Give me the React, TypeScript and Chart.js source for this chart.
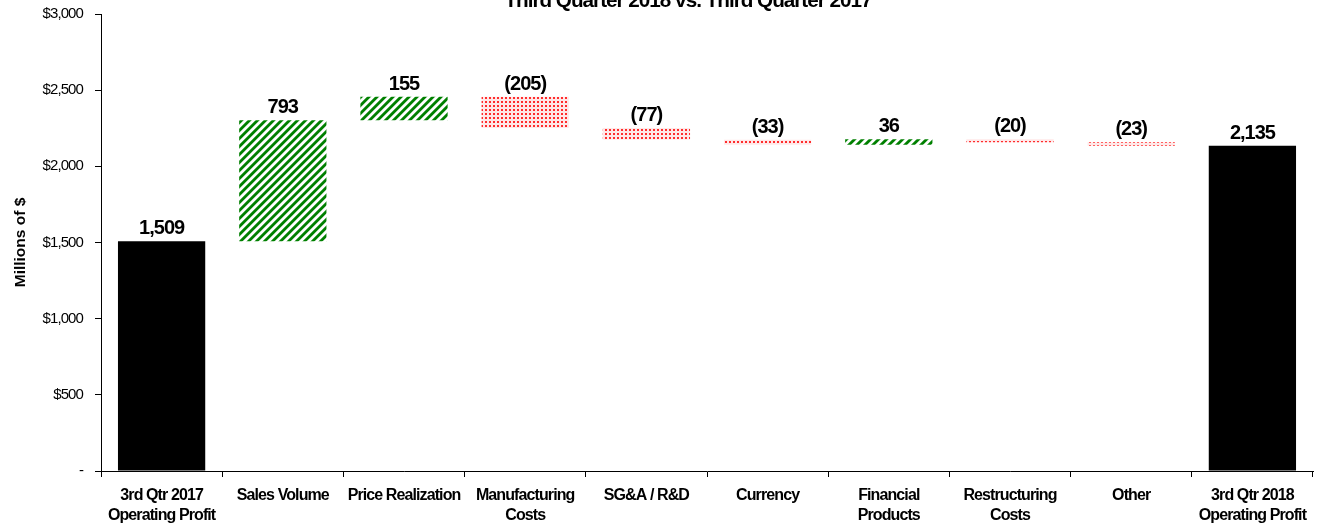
import React, { useEffect, useRef } from "react";
import { Chart, registerables } from "chart.js";

Chart.register(...registerables);

// ---- Data ----
const categories: (string | string[])[] = [
  ["3rd Qtr 2017", "Operating Profit"],
  "Sales Volume",
  "Price Realization",
  ["Manufacturing", "Costs"],
  "SG&A / R&D",
  "Currency",
  ["Financial", "Products"],
  ["Restructuring", "Costs"],
  "Other",
  ["3rd Qtr 2018", "Operating Profit"],
];
const changes = [1509, 793, 155, -205, -77, -33, 36, -20, -23, 2135];
const kinds = ["total", "up", "up", "down", "down", "down", "up", "down", "down", "total"];
const valueLabels = ["1,509", "793", "155", "(205)", "(77)", "(33)", "36", "(20)", "(23)", "2,135"];
const yTickValues = [0, 500, 1000, 1500, 2000, 2500, 3000];
const chartTitle = "Third Quarter 2018 vs. Third Quarter 2017";
const yAxisTitle = "Millions of $";

const FONT = "'Liberation Sans', Arial, sans-serif";
const TIGHT = "-0.9px";

function buildFloating(): [number, number][] {
  const out: [number, number][] = [];
  let run = 0;
  changes.forEach((v, i) => {
    if (kinds[i] === "total") {
      out.push([0, v]);
      run = v;
    } else {
      out.push([run, run + v]);
      run = run + v;
    }
  });
  return out;
}

function makeStripePattern(ctx: CanvasRenderingContext2D): CanvasPattern | string {
  const size = 8;
  const c = document.createElement("canvas");
  c.width = size;
  c.height = size;
  const g = c.getContext("2d")!;
  const img = g.createImageData(size, size);
  for (let y = 0; y < size; y++) {
    for (let x = 0; x < size; x++) {
      let cov = 0;
      const ss = 4;
      for (let sy = 0; sy < ss; sy++) {
        for (let sx = 0; sx < ss; sx++) {
          const px = x + (sx + 0.5) / ss;
          const py = y + (sy + 0.5) / ss;
          const d = ((px + py) % size + size) % size;
          if (d < 4) cov++;
        }
      }
      const f = cov / (ss * ss);
      const idx = (y * size + x) * 4;
      img.data[idx] = Math.round(255 * (1 - f));
      img.data[idx + 1] = Math.round(255 * (1 - f) + 128 * f);
      img.data[idx + 2] = Math.round(255 * (1 - f));
      img.data[idx + 3] = 255;
    }
  }
  g.putImageData(img, 0, 0);
  return ctx.createPattern(c, "repeat") || "#008000";
}

function makeDotPattern(ctx: CanvasRenderingContext2D): CanvasPattern | string {
  const size = 4;
  const c = document.createElement("canvas");
  c.width = size;
  c.height = size;
  const g = c.getContext("2d")!;
  g.fillStyle = "rgb(255,232,232)";
  g.fillRect(0, 0, size, size);
  g.fillStyle = "rgb(255,45,45)";
  g.fillRect(1, 1, 2, 2);
  return ctx.createPattern(c, "repeat") || "#ff0000";
}

const spacingPlugin = {
  id: "tightText",
  beforeLayout(chart: any) {
    (chart.ctx as any).letterSpacing = TIGHT;
  },
  afterLayout(chart: any) {
    const ys = chart.scales.y;
    if (ys && !ys.__patched) {
      const orig = ys.drawTitle.bind(ys);
      ys.drawTitle = function () {
        const ctx = chart.ctx as any;
        ctx.save();
        ctx.letterSpacing = "0px";
        orig();
        ctx.restore();
      };
      ys.__patched = true;
    }
  },
  beforeDraw(chart: any) {
    (chart.ctx as any).letterSpacing = TIGHT;
  },
};

const labelPlugin = {
  id: "wfLabels",
  afterDatasetsDraw(chart: any) {
    const ctx = chart.ctx as any;
    const meta = chart.getDatasetMeta(0);
    ctx.save();
    ctx.letterSpacing = "-1px";
    ctx.fillStyle = "#000";
    ctx.font = `bold 20px ${FONT}`;
    ctx.textAlign = "center";
    ctx.textBaseline = "alphabetic";
    meta.data.forEach((el: any, i: number) => {
      const top = Math.min(el.y, el.base);
      ctx.fillText(valueLabels[i], el.x, top - 7);
    });
    ctx.restore();
  },
};

const titlePlugin = {
  id: "cutTitle",
  afterDraw(chart: any) {
    const ctx = chart.ctx as any;
    ctx.save();
    ctx.letterSpacing = "-1px";
    ctx.fillStyle = "#000";
    ctx.font = `bold 20.7px ${FONT}`;
    ctx.textAlign = "center";
    ctx.textBaseline = "alphabetic";
    ctx.fillText(chartTitle, 688, 7);
    ctx.restore();
  },
};

export default function App() {
  const ref = useRef<HTMLCanvasElement | null>(null);
  useEffect(() => {
    document.body.style.margin = "0";
    const canvas = ref.current!;
    const ctx = canvas.getContext("2d")!;
    const stripe = makeStripePattern(ctx);
    const dots = makeDotPattern(ctx);
    const colors = kinds.map((k) => (k === "total" ? "#000000" : k === "up" ? stripe : dots));
    const chart = new Chart(canvas, {
      type: "bar",
      data: {
        labels: categories,
        datasets: [
          {
            data: buildFloating() as any,
            backgroundColor: colors as any,
            borderWidth: 0,
            barPercentage: 0.72,
            categoryPercentage: 1,
          },
        ],
      },
      plugins: [spacingPlugin, labelPlugin, titlePlugin],
      options: {
        responsive: false,
        animation: false,
        devicePixelRatio: 1,
        layout: { padding: { top: 14, right: 7, left: 0, bottom: 0 } },
        plugins: { legend: { display: false }, tooltip: { enabled: false }, title: { display: false } },
        scales: {
          x: {
            offset: true,
            grid: { offset: true, drawOnChartArea: false, tickLength: 6, color: "#000" },
            border: { color: "#000", width: 1 },
            ticks: {
              color: "#000",
              autoSkip: false,
              maxRotation: 0,
              minRotation: 0,
              padding: 9,
              font: { family: FONT, size: 16, weight: "bold", lineHeight: 1.25 },
            },
            afterFit: (s: any) => {
              s.height = 53;
            },
          },
          y: {
            min: 0,
            max: 3000,
            afterBuildTicks: (s: any) => {
              s.ticks = yTickValues.map((v) => ({ value: v }));
            },
            ticks: {
              color: "#000",
              padding: 12,
              font: { family: FONT, size: 15 },
              callback: (v: any) => (Number(v) === 0 ? "-" : "$" + Number(v).toLocaleString("en-US")),
            },
            grid: { drawOnChartArea: false, tickLength: 6, color: "#000" },
            border: { color: "#000", width: 1 },
            title: {
              display: true,
              text: yAxisTitle,
              color: "#000",
              font: { family: FONT, size: 15.5, weight: "bold" },
              padding: { top: 11, bottom: 0 },
            },
            afterFit: (s: any) => {
              s.width = 101;
              s.paddingTop = 0;
              s.paddingBottom = 0;
            },
          },
        },
      },
    });
    return () => chart.destroy();
  }, []);
  return (
    <div style={{ position: "fixed", left: 0, top: 0, width: 1320, height: 524, background: "#fff" }}>
      <canvas ref={ref} width={1320} height={524} style={{ display: "block" }} />
    </div>
  );
}
